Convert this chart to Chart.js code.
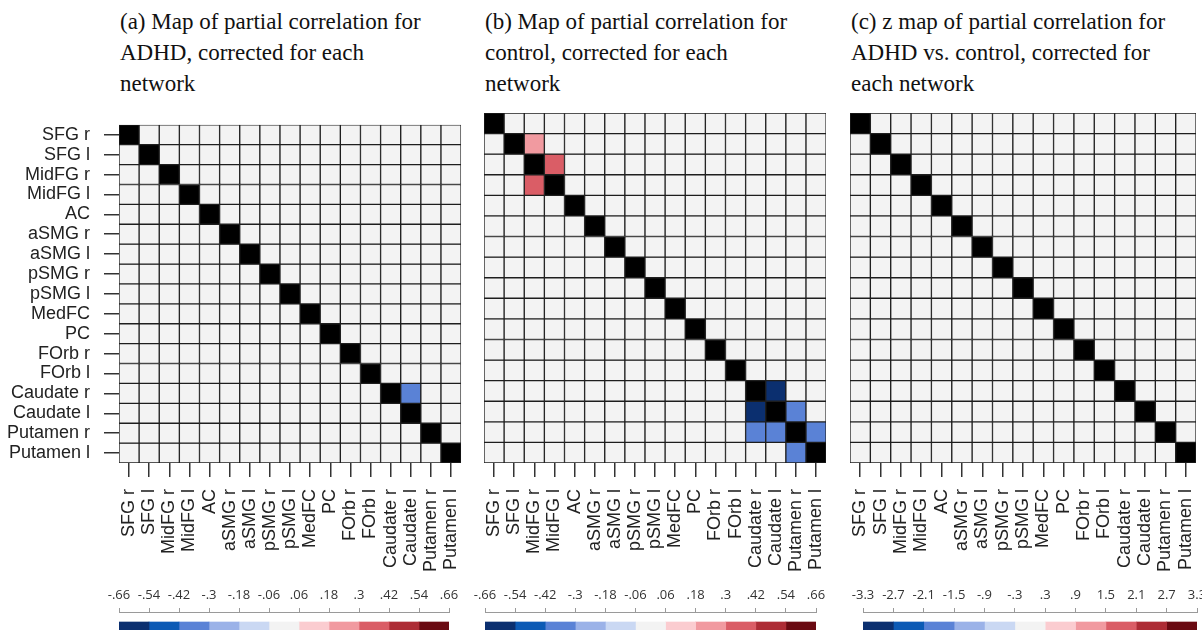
<!DOCTYPE html>
<html>
<head>
<meta charset="utf-8">
<script src="https://cdn.jsdelivr.net/npm/chart.js@4.4.1/dist/chart.umd.min.js"></script>
<style>
  html, body { margin: 0; padding: 0; background: #ffffff; }
  body { width: 1202px; height: 630px; overflow: hidden; position: relative; }
  .ttl { position: absolute; top: 6px; font-family: "Liberation Serif", "Times New Roman", serif;
         font-size: 23px; line-height: 31px; color: #111; white-space: nowrap; }
  canvas { position: absolute; }
</style>
</head>
<body>
<div class="ttl" style="left:120px">(a) Map of partial correlation for<br>ADHD, corrected for each<br>network</div>
<div class="ttl" style="left:485px">(b) Map of partial correlation for<br>control, corrected for each<br>network</div>
<div class="ttl" style="left:851px">(c) z map of partial correlation for<br>ADHD vs. control, corrected for<br>each network</div>

<canvas id="mA" width="485" height="480" style="left:0px;top:100px;width:485px;height:480px"></canvas>
<canvas id="mB" width="470" height="480" style="left:380px;top:100px;width:470px;height:480px"></canvas>
<canvas id="mC" width="480" height="480" style="left:740px;top:100px;width:480px;height:480px"></canvas>

<canvas id="cA" width="370" height="80" style="left:100px;top:580px;width:370px;height:80px"></canvas>
<canvas id="cB" width="370" height="80" style="left:466px;top:580px;width:370px;height:80px"></canvas>
<canvas id="cC" width="372" height="80" style="left:844px;top:580px;width:372px;height:80px"></canvas>

<script>
// ---------- data ----------
const regions = ["SFG r","SFG l","MidFG r","MidFG l","AC","aSMG r","aSMG l","pSMG r","pSMG l",
                 "MedFC","PC","FOrb r","FOrb l","Caudate r","Caudate l","Putamen r","Putamen l"];

// null = diagonal (self), drawn black
const adhdMatrix = [
  [null,0,0,0,0,0,0,0,0,0,0,0,0,0,0,0,0],
  [0,null,0,0,0,0,0,0,0,0,0,0,0,0,0,0,0],
  [0,0,null,0,0,0,0,0,0,0,0,0,0,0,0,0,0],
  [0,0,0,null,0,0,0,0,0,0,0,0,0,0,0,0,0],
  [0,0,0,0,null,0,0,0,0,0,0,0,0,0,0,0,0],
  [0,0,0,0,0,null,0,0,0,0,0,0,0,0,0,0,0],
  [0,0,0,0,0,0,null,0,0,0,0,0,0,0,0,0,0],
  [0,0,0,0,0,0,0,null,0,0,0,0,0,0,0,0,0],
  [0,0,0,0,0,0,0,0,null,0,0,0,0,0,0,0,0],
  [0,0,0,0,0,0,0,0,0,null,0,0,0,0,0,0,0],
  [0,0,0,0,0,0,0,0,0,0,null,0,0,0,0,0,0],
  [0,0,0,0,0,0,0,0,0,0,0,null,0,0,0,0,0],
  [0,0,0,0,0,0,0,0,0,0,0,0,null,0,0,0,0],
  [0,0,0,0,0,0,0,0,0,0,0,0,0,null,-0.36,0,0],
  [0,0,0,0,0,0,0,0,0,0,0,0,0,0,null,0,0],
  [0,0,0,0,0,0,0,0,0,0,0,0,0,0,0,null,0],
  [0,0,0,0,0,0,0,0,0,0,0,0,0,0,0,0,null]
];

const controlMatrix = [
  [null,0,0,0,0,0,0,0,0,0,0,0,0,0,0,0,0],
  [0,null,0.24,0,0,0,0,0,0,0,0,0,0,0,0,0,0],
  [0,0,null,0.36,0,0,0,0,0,0,0,0,0,0,0,0,0],
  [0,0,0.36,null,0,0,0,0,0,0,0,0,0,0,0,0,0],
  [0,0,0,0,null,0,0,0,0,0,0,0,0,0,0,0,0],
  [0,0,0,0,0,null,0,0,0,0,0,0,0,0,0,0,0],
  [0,0,0,0,0,0,null,0,0,0,0,0,0,0,0,0,0],
  [0,0,0,0,0,0,0,null,0,0,0,0,0,0,0,0,0],
  [0,0,0,0,0,0,0,0,null,0,0,0,0,0,0,0,0],
  [0,0,0,0,0,0,0,0,0,null,0,0,0,0,0,0,0],
  [0,0,0,0,0,0,0,0,0,0,null,0,0,0,0,0,0],
  [0,0,0,0,0,0,0,0,0,0,0,null,0,0,0,0,0],
  [0,0,0,0,0,0,0,0,0,0,0,0,null,0,0,0,0],
  [0,0,0,0,0,0,0,0,0,0,0,0,0,null,-0.6,0,0],
  [0,0,0,0,0,0,0,0,0,0,0,0,0,-0.6,null,-0.36,0],
  [0,0,0,0,0,0,0,0,0,0,0,0,0,-0.36,-0.36,null,-0.36],
  [0,0,0,0,0,0,0,0,0,0,0,0,0,0,0,-0.36,null]
];

const zMatrix = [
  [null,0,0,0,0,0,0,0,0,0,0,0,0,0,0,0,0],
  [0,null,0,0,0,0,0,0,0,0,0,0,0,0,0,0,0],
  [0,0,null,0,0,0,0,0,0,0,0,0,0,0,0,0,0],
  [0,0,0,null,0,0,0,0,0,0,0,0,0,0,0,0,0],
  [0,0,0,0,null,0,0,0,0,0,0,0,0,0,0,0,0],
  [0,0,0,0,0,null,0,0,0,0,0,0,0,0,0,0,0],
  [0,0,0,0,0,0,null,0,0,0,0,0,0,0,0,0,0],
  [0,0,0,0,0,0,0,null,0,0,0,0,0,0,0,0,0],
  [0,0,0,0,0,0,0,0,null,0,0,0,0,0,0,0,0],
  [0,0,0,0,0,0,0,0,0,null,0,0,0,0,0,0,0],
  [0,0,0,0,0,0,0,0,0,0,null,0,0,0,0,0,0],
  [0,0,0,0,0,0,0,0,0,0,0,null,0,0,0,0,0],
  [0,0,0,0,0,0,0,0,0,0,0,0,null,0,0,0,0],
  [0,0,0,0,0,0,0,0,0,0,0,0,0,null,0,0,0],
  [0,0,0,0,0,0,0,0,0,0,0,0,0,0,null,0,0],
  [0,0,0,0,0,0,0,0,0,0,0,0,0,0,0,null,0],
  [0,0,0,0,0,0,0,0,0,0,0,0,0,0,0,0,null]
];

// colour scale bin edges (also the colourbar tick values) and tick labels
const corrEdges  = [-0.66,-0.54,-0.42,-0.3,-0.18,-0.06,0.06,0.18,0.3,0.42,0.54,0.66];
const corrLabels = ["-.66","-.54","-.42","-.3","-.18","-.06",".06",".18",".3",".42",".54",".66"];
const zEdges     = [-3.3,-2.7,-2.1,-1.5,-0.9,-0.3,0.3,0.9,1.5,2.1,2.7,3.3];
const zLabels    = ["-3.3","-2.7","-2.1","-1.5","-.9","-.3",".3",".9","1.5","2.1","2.7","3.3"];
const binColors  = ["#0b2f6f","#0c5ab5","#5a82d6","#9bb2e8","#cad8f3","#f3f3f3",
                    "#fbccd0","#f19aa0","#da5d66","#ad2c35","#6a0a12"];

// ---------- helpers ----------
function cellColor(v, edges) {
  if (v === null) return "#000000";
  let k = 0;
  while (k < binColors.length - 1 && v >= edges[k + 1]) k++;
  return binColors[k];
}

const LABEL_FONT = { family: "'Liberation Sans', Arial, sans-serif", size: 18 };
const CB_FONT = { family: "'Open Sans', 'Liberation Sans', sans-serif", size: 13 };

function makeMatrix(id, matrix, edges, showRows, pad) {
  const datasets = matrix.map((row, i) => ({
    label: regions[i],
    data: row.map(() => 1),
    backgroundColor: row.map(v => cellColor(v, edges)),
    borderColor: "#1e1e1e",
    borderWidth: 1,
    borderSkipped: false,
    barPercentage: 1,
    categoryPercentage: 1
  }));
  new Chart(document.getElementById(id), {
    type: "bar",
    data: { labels: regions, datasets },
    options: {
      responsive: false,
      animation: false,
      layout: { padding: pad },
      plugins: { legend: { display: false }, tooltip: { enabled: false } },
      scales: {
        x: {
          type: "category", stacked: true, offset: true,
          grid: { offset: false, drawOnChartArea: false, tickLength: 14, color: "#333", lineWidth: 1.5 },
          border: { display: false },
          ticks: { autoSkip: false, minRotation: 90, maxRotation: 90, padding: 12,
                   font: LABEL_FONT, color: "#222" },
          afterFit: s => { s.height = 117; }
        },
        y: { type: "linear", stacked: true, min: 0, max: matrix.length, reverse: true, display: false },
        rows: {
          type: "category", labels: regions, position: "left", offset: true, bounds: "ticks",
          display: showRows,
          grid: { offset: false, drawOnChartArea: false, tickLength: 15, color: "#333", lineWidth: 1.5 },
          border: { display: false },
          ticks: { autoSkip: false, padding: 14, font: LABEL_FONT, color: "#222" },
          afterFit: s => { s.width = showRows ? 119 : 0; }
        }
      }
    }
  });
}

function makeColorbar(id, edges, tickLabels, pad) {
  const datasets = binColors.map((c, k) => ({
    data: [[edges[k], edges[k + 1]]],
    backgroundColor: c,
    borderWidth: 0,
    barThickness: 28,
    grouped: false
  }));
  new Chart(document.getElementById(id), {
    type: "bar",
    data: { labels: ["cb"], datasets },
    options: {
      indexAxis: "y",
      responsive: false,
      animation: false,
      layout: { padding: pad },
      plugins: { legend: { display: false }, tooltip: { enabled: false } },
      scales: {
        x: {
          type: "linear", position: "top", min: edges[0], max: edges[edges.length - 1],
          afterBuildTicks: s => { s.ticks = edges.map(v => ({ value: v })); },
          ticks: { autoSkip: false, maxRotation: 0, minRotation: 0, padding: 5, color: "#333",
                   font: CB_FONT,
                   callback: (v, i) => tickLabels[i] },
          grid: { drawOnChartArea: false, tickLength: 4, color: "#9a9a9a" },
          border: { color: "#9a9a9a" },
          afterFit: s => { s.height = 32; }
        },
        y: { type: "category", display: false, offset: true }
      }
    }
  });
}

makeMatrix("mA", adhdMatrix, corrEdges, true,  { top: 13, right: 13, left: 0, bottom: 0 });
makeMatrix("mB", controlMatrix, corrEdges, false, { top: 13, right: 12, left: 104, bottom: 0 });
makeMatrix("mC", zMatrix, zEdges, false, { top: 13, right: 18, left: 110, bottom: 0 });

makeColorbar("cA", corrEdges, corrLabels, { top: 0, right: 21, left: 19, bottom: 0 });
makeColorbar("cB", corrEdges, corrLabels, { top: 0, right: 20, left: 19, bottom: 0 });
makeColorbar("cC", zEdges, zLabels, { top: 0, right: 19, left: 19, bottom: 0 });
</script>
</body>
</html>
